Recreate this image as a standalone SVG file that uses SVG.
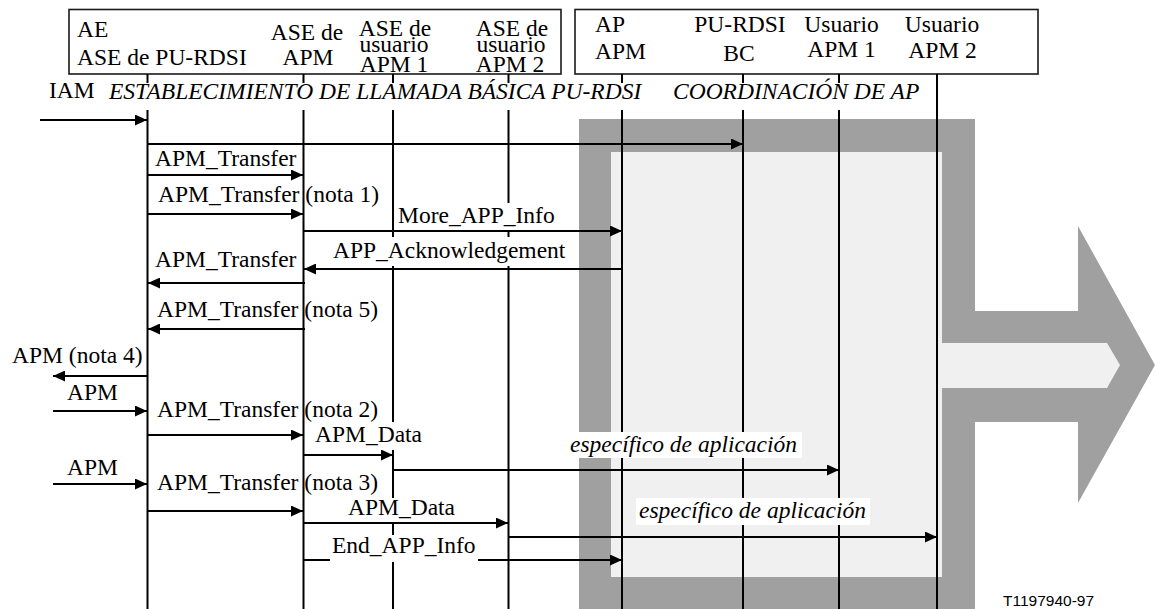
<svg xmlns="http://www.w3.org/2000/svg" width="1155" height="609" viewBox="0 0 1155 609">
<defs>
<style>
.t{font-family:"Liberation Serif","Times New Roman",serif;font-size:23.5px;fill:#000}
.i{font-style:italic}
.c{text-anchor:middle}
.ll{stroke:#000;stroke-width:2;fill:none}
.m{stroke:#000;stroke-width:2;fill:none;marker-end:url(#ah)}
.bg{fill:#fff}
.box{fill:#fff;stroke:#1a1a1a;stroke-width:1.6}
.code{font-family:"Liberation Sans",Arial,sans-serif;font-size:15.5px;fill:#000}
</style>
<marker id="ah" markerUnits="userSpaceOnUse" markerWidth="12" markerHeight="11" refX="12" refY="5.5" orient="auto">
<path d="M0,0 L12,5.5 L0,11 z" fill="#000"/>
</marker>
</defs>
<rect width="1155" height="609" fill="#fff"/>
<g id="coordination-area">
<polygon points="579,119 975,119 975,311 1078,311 1078,226 1155,365 1078,503 1078,422 975,422 975,609 579,609" fill="#a0a0a0"/>
<polygon points="611,152 942,152 942,343 1107,343 1120,365 1107,388 942,388 942,577 611,577" fill="#f0f0f0"/>
</g>
<g id="header-left"><rect class="box" x="69" y="9.5" width="492" height="64.5"/></g>
<g id="header-right"><rect class="box" x="575" y="9.5" width="463" height="64.5"/></g>
<g id="ae-pu-rdsi">
<text class="t" x="77" y="37">AE</text>
<text class="t" x="77" y="65">ASE de PU-RDSI</text>
<line class="ll" x1="147.5" y1="74" x2="147.5" y2="609"/>
</g>
<g id="ase-apm">
<text class="t c" x="307" y="40">ASE de</text>
<text class="t c" x="308" y="65">APM</text>
<line class="ll" x1="303.5" y1="74" x2="303.5" y2="609"/>
</g>
<g id="ase-usuario-apm1">
<text class="t c" x="395" y="36">ASE de</text>
<text class="t c" x="394" y="52">usuario</text>
<text class="t c" x="394" y="71.5">APM 1</text>
<line class="ll" x1="393" y1="74" x2="393" y2="609"/>
</g>
<g id="ase-usuario-apm2">
<text class="t c" x="512" y="36">ASE de</text>
<text class="t c" x="511" y="52">usuario</text>
<text class="t c" x="510" y="71.5">APM 2</text>
<line class="ll" x1="508.5" y1="74" x2="508.5" y2="609"/>
</g>
<g id="ap-apm">
<text class="t" x="595" y="32">AP</text>
<text class="t" x="595" y="59">APM</text>
<line class="ll" x1="622" y1="74" x2="622" y2="609"/>
</g>
<g id="pu-rdsi-bc">
<text class="t c" x="740" y="32">PU-RDSI</text>
<text class="t c" x="739" y="61">BC</text>
<line class="ll" x1="743" y1="74" x2="743" y2="609"/>
</g>
<g id="usuario-apm1">
<text class="t c" x="841.5" y="32">Usuario</text>
<text class="t c" x="841.5" y="57">APM 1</text>
<line class="ll" x1="839" y1="74" x2="839" y2="609"/>
</g>
<g id="usuario-apm2">
<text class="t c" x="942" y="32">Usuario</text>
<text class="t c" x="942.5" y="58">APM 2</text>
<line class="ll" x1="937" y1="74" x2="937" y2="609"/>
</g>
<g id="connectors">
<path class="m" d="M40,120 H147"/>
<path class="m" d="M148,144 H743"/>
<path class="m" d="M148,175 H303"/>
<path class="m" d="M148,214 H303"/>
<path class="m" d="M303,231 H622"/>
<path class="m" d="M623,269 H304"/>
<path class="m" d="M305,283 H148"/>
<path class="m" d="M305,329 H148"/>
<path class="m" d="M148,376 H53"/>
<path class="m" d="M53,411 H147"/>
<path class="m" d="M148,435 H303"/>
<path class="m" d="M303,455 H393"/>
<path class="m" d="M393,470 H839"/>
<path class="m" d="M53,484 H147"/>
<path class="m" d="M148,511 H303"/>
<path class="m" d="M303,523 H508"/>
<path class="m" d="M508,537 H937"/>
<path class="m" d="M303,560 H622"/>
</g>
<g id="labels">
<text class="t" x="49" y="98">IAM</text>
<rect class="bg" x="105" y="83" width="530" height="27"/>
<text class="t i" x="109" y="99">ESTABLECIMIENTO DE LLAMADA BÁSICA PU-RDSI</text>
<rect class="bg" x="669" y="83" width="256" height="27"/>
<text class="t i" x="673" y="99">COORDINACIÓN DE AP</text>
<text class="t" x="155" y="166">APM_Transfer</text>
<text class="t" x="158" y="202">APM_Transfer (nota 1)</text>
<rect class="bg" x="395" y="203" width="164" height="27"/>
<text class="t" x="398" y="223">More_APP_Info</text>
<rect class="bg" x="330" y="237" width="240" height="29"/>
<text class="t" x="333" y="258">APP_Acknowledgement</text>
<text class="t" x="155" y="267">APM_Transfer</text>
<text class="t" x="157" y="317">APM_Transfer (nota 5)</text>
<text class="t" x="12" y="363">APM (nota 4)</text>
<text class="t" x="67" y="400">APM</text>
<text class="t" x="157" y="417">APM_Transfer (nota 2)</text>
<rect class="bg" x="312" y="422" width="112" height="28"/>
<text class="t" x="315" y="442">APM_Data</text>
<rect class="bg" x="567" y="432" width="235" height="26"/>
<text class="t i" x="570" y="452">específico de aplicación</text>
<text class="t" x="67" y="475">APM</text>
<text class="t" x="157" y="490">APM_Transfer (nota 3)</text>
<rect class="bg" x="345" y="498" width="112" height="24"/>
<text class="t" x="348" y="515">APM_Data</text>
<rect class="bg" x="636" y="498" width="234" height="27"/>
<text class="t i" x="639" y="518">específico de aplicación</text>
<rect class="bg" x="330" y="535" width="148" height="27"/>
<text class="t" x="332" y="553">End_APP_Info</text>
<text class="code" x="1003" y="606">T1197940-97</text>
</g>
</svg>
